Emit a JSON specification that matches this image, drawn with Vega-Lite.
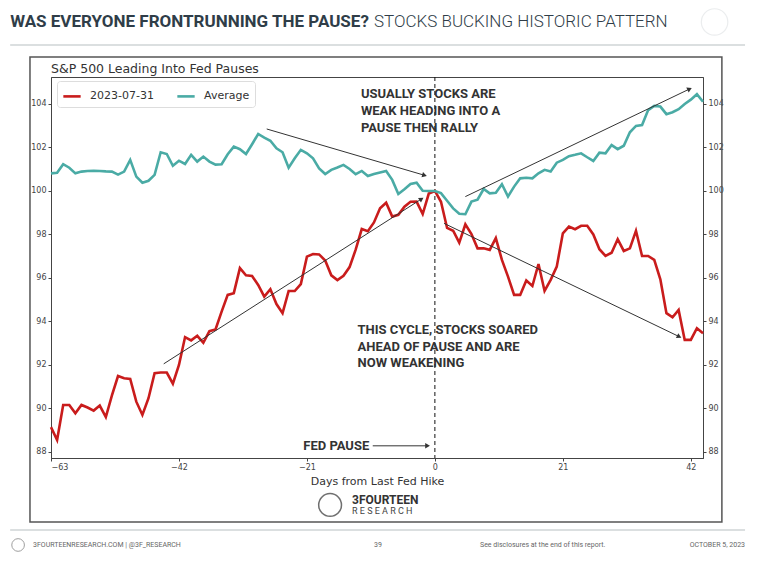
{
  "$schema": "https://vega.github.io/schema/vega-lite/v6.json",
  "width": 652,
  "height": 381,
  "autosize": {"type": "none"},
  "padding": {"left": 51, "top": 77, "right": 55, "bottom": 103},
  "background": "white",
  "config": {
    "view": {"stroke": "#444", "strokeWidth": 1},
    "font": "DejaVu Sans"
  },
  "datasets": {
    "one": [{}],
    "perf": [
      {"day":-63,"series":"2023-07-31","value":89.14},{"day":-62,"series":"2023-07-31","value":88.55},{"day":-61,"series":"2023-07-31","value":90.16},{"day":-60,"series":"2023-07-31","value":90.16},{"day":-59,"series":"2023-07-31","value":89.78},{"day":-58,"series":"2023-07-31","value":90.16},{"day":-57,"series":"2023-07-31","value":90.04},{"day":-56,"series":"2023-07-31","value":89.9},{"day":-55,"series":"2023-07-31","value":90.13},{"day":-54,"series":"2023-07-31","value":89.6},{"day":-53,"series":"2023-07-31","value":90.6},{"day":-52,"series":"2023-07-31","value":91.49},{"day":-51,"series":"2023-07-31","value":91.39},{"day":-50,"series":"2023-07-31","value":91.36},{"day":-49,"series":"2023-07-31","value":90.31},{"day":-48,"series":"2023-07-31","value":89.7},{"day":-47,"series":"2023-07-31","value":90.47},{"day":-46,"series":"2023-07-31","value":91.62},{"day":-45,"series":"2023-07-31","value":91.65},{"day":-44,"series":"2023-07-31","value":91.65},{"day":-43,"series":"2023-07-31","value":91.14},{"day":-42,"series":"2023-07-31","value":92.0},{"day":-41,"series":"2023-07-31","value":93.28},{"day":-40,"series":"2023-07-31","value":93.13},{"day":-39,"series":"2023-07-31","value":93.34},{"day":-38,"series":"2023-07-31","value":93.02},{"day":-37,"series":"2023-07-31","value":93.55},{"day":-36,"series":"2023-07-31","value":93.63},{"day":-35,"series":"2023-07-31","value":94.45},{"day":-34,"series":"2023-07-31","value":95.22},{"day":-33,"series":"2023-07-31","value":95.3},{"day":-32,"series":"2023-07-31","value":96.45},{"day":-31,"series":"2023-07-31","value":96.12},{"day":-30,"series":"2023-07-31","value":96.09},{"day":-29,"series":"2023-07-31","value":95.68},{"day":-28,"series":"2023-07-31","value":95.14},{"day":-27,"series":"2023-07-31","value":95.48},{"day":-26,"series":"2023-07-31","value":94.8},{"day":-25,"series":"2023-07-31","value":94.38},{"day":-24,"series":"2023-07-31","value":95.4},{"day":-23,"series":"2023-07-31","value":95.4},{"day":-22,"series":"2023-07-31","value":95.72},{"day":-21,"series":"2023-07-31","value":96.98},{"day":-20,"series":"2023-07-31","value":97.1},{"day":-19,"series":"2023-07-31","value":97.08},{"day":-18,"series":"2023-07-31","value":96.8},{"day":-17,"series":"2023-07-31","value":96.12},{"day":-16,"series":"2023-07-31","value":95.9},{"day":-15,"series":"2023-07-31","value":96.1},{"day":-14,"series":"2023-07-31","value":96.5},{"day":-13,"series":"2023-07-31","value":97.3},{"day":-12,"series":"2023-07-31","value":98.25},{"day":-11,"series":"2023-07-31","value":98.15},{"day":-10,"series":"2023-07-31","value":98.55},{"day":-9,"series":"2023-07-31","value":99.2},{"day":-8,"series":"2023-07-31","value":99.46},{"day":-7,"series":"2023-07-31","value":98.82},{"day":-6,"series":"2023-07-31","value":98.9},{"day":-5,"series":"2023-07-31","value":99.28},{"day":-4,"series":"2023-07-31","value":99.5},{"day":-3,"series":"2023-07-31","value":99.51},{"day":-2,"series":"2023-07-31","value":98.94},{"day":-1,"series":"2023-07-31","value":99.88},{"day":0,"series":"2023-07-31","value":100.0},{"day":1,"series":"2023-07-31","value":99.5},{"day":2,"series":"2023-07-31","value":98.3},{"day":3,"series":"2023-07-31","value":98.17},{"day":4,"series":"2023-07-31","value":97.62},{"day":5,"series":"2023-07-31","value":98.47},{"day":6,"series":"2023-07-31","value":98.02},{"day":7,"series":"2023-07-31","value":97.36},{"day":8,"series":"2023-07-31","value":97.36},{"day":9,"series":"2023-07-31","value":97.29},{"day":10,"series":"2023-07-31","value":97.83},{"day":11,"series":"2023-07-31","value":96.83},{"day":12,"series":"2023-07-31","value":96.06},{"day":13,"series":"2023-07-31","value":95.22},{"day":14,"series":"2023-07-31","value":95.22},{"day":15,"series":"2023-07-31","value":95.88},{"day":16,"series":"2023-07-31","value":95.63},{"day":17,"series":"2023-07-31","value":96.64},{"day":18,"series":"2023-07-31","value":95.4},{"day":19,"series":"2023-07-31","value":95.91},{"day":20,"series":"2023-07-31","value":96.52},{"day":21,"series":"2023-07-31","value":98.05},{"day":22,"series":"2023-07-31","value":98.36},{"day":23,"series":"2023-07-31","value":98.24},{"day":24,"series":"2023-07-31","value":98.4},{"day":25,"series":"2023-07-31","value":98.4},{"day":26,"series":"2023-07-31","value":98.0},{"day":27,"series":"2023-07-31","value":97.32},{"day":28,"series":"2023-07-31","value":97.01},{"day":29,"series":"2023-07-31","value":97.16},{"day":30,"series":"2023-07-31","value":97.78},{"day":31,"series":"2023-07-31","value":97.24},{"day":32,"series":"2023-07-31","value":97.36},{"day":33,"series":"2023-07-31","value":98.17},{"day":34,"series":"2023-07-31","value":97.01},{"day":35,"series":"2023-07-31","value":97.01},{"day":36,"series":"2023-07-31","value":96.83},{"day":37,"series":"2023-07-31","value":95.94},{"day":38,"series":"2023-07-31","value":94.38},{"day":39,"series":"2023-07-31","value":94.19},{"day":40,"series":"2023-07-31","value":94.53},{"day":41,"series":"2023-07-31","value":93.15},{"day":42,"series":"2023-07-31","value":93.15},{"day":43,"series":"2023-07-31","value":93.69},{"day":44,"series":"2023-07-31","value":93.46},
      {"day":-63,"series":"Average","value":100.81},{"day":-62,"series":"Average","value":100.84},{"day":-61,"series":"Average","value":101.23},{"day":-60,"series":"Average","value":101.07},{"day":-59,"series":"Average","value":100.81},{"day":-58,"series":"Average","value":100.89},{"day":-57,"series":"Average","value":100.92},{"day":-56,"series":"Average","value":100.93},{"day":-55,"series":"Average","value":100.92},{"day":-54,"series":"Average","value":100.9},{"day":-53,"series":"Average","value":100.89},{"day":-52,"series":"Average","value":100.75},{"day":-51,"series":"Average","value":100.89},{"day":-50,"series":"Average","value":101.43},{"day":-49,"series":"Average","value":100.66},{"day":-48,"series":"Average","value":100.38},{"day":-47,"series":"Average","value":100.47},{"day":-46,"series":"Average","value":100.74},{"day":-45,"series":"Average","value":101.78},{"day":-44,"series":"Average","value":101.7},{"day":-43,"series":"Average","value":101.16},{"day":-42,"series":"Average","value":101.39},{"day":-41,"series":"Average","value":101.24},{"day":-40,"series":"Average","value":101.66},{"day":-39,"series":"Average","value":101.35},{"day":-38,"series":"Average","value":101.58},{"day":-37,"series":"Average","value":101.35},{"day":-36,"series":"Average","value":101.21},{"day":-35,"series":"Average","value":101.23},{"day":-34,"series":"Average","value":101.69},{"day":-33,"series":"Average","value":102.04},{"day":-32,"series":"Average","value":101.92},{"day":-31,"series":"Average","value":101.7},{"day":-30,"series":"Average","value":102.15},{"day":-29,"series":"Average","value":102.62},{"day":-28,"series":"Average","value":102.45},{"day":-27,"series":"Average","value":102.31},{"day":-26,"series":"Average","value":101.96},{"day":-25,"series":"Average","value":101.78},{"day":-24,"series":"Average","value":101.07},{"day":-23,"series":"Average","value":101.5},{"day":-22,"series":"Average","value":101.89},{"day":-21,"series":"Average","value":101.73},{"day":-20,"series":"Average","value":101.5},{"day":-19,"series":"Average","value":101.04},{"day":-18,"series":"Average","value":100.78},{"day":-17,"series":"Average","value":100.97},{"day":-16,"series":"Average","value":101.08},{"day":-15,"series":"Average","value":101.2},{"day":-14,"series":"Average","value":101.01},{"day":-13,"series":"Average","value":100.77},{"day":-12,"series":"Average","value":100.92},{"day":-11,"series":"Average","value":100.69},{"day":-10,"series":"Average","value":100.78},{"day":-9,"series":"Average","value":100.85},{"day":-8,"series":"Average","value":100.92},{"day":-7,"series":"Average","value":100.51},{"day":-6,"series":"Average","value":99.86},{"day":-5,"series":"Average","value":100.08},{"day":-4,"series":"Average","value":100.32},{"day":-3,"series":"Average","value":100.38},{"day":-2,"series":"Average","value":100.01},{"day":-1,"series":"Average","value":100.0},{"day":0,"series":"Average","value":100.0},{"day":1,"series":"Average","value":99.9},{"day":2,"series":"Average","value":99.55},{"day":3,"series":"Average","value":99.2},{"day":4,"series":"Average","value":98.95},{"day":5,"series":"Average","value":98.93},{"day":6,"series":"Average","value":99.51},{"day":7,"series":"Average","value":99.6},{"day":8,"series":"Average","value":100.09},{"day":9,"series":"Average","value":99.89},{"day":10,"series":"Average","value":99.92},{"day":11,"series":"Average","value":100.31},{"day":12,"series":"Average","value":99.74},{"day":13,"series":"Average","value":100.2},{"day":14,"series":"Average","value":100.58},{"day":15,"series":"Average","value":100.61},{"day":16,"series":"Average","value":100.58},{"day":17,"series":"Average","value":100.81},{"day":18,"series":"Average","value":100.97},{"day":19,"series":"Average","value":100.89},{"day":20,"series":"Average","value":101.3},{"day":21,"series":"Average","value":101.43},{"day":22,"series":"Average","value":101.6},{"day":23,"series":"Average","value":101.66},{"day":24,"series":"Average","value":101.73},{"day":25,"series":"Average","value":101.55},{"day":26,"series":"Average","value":101.38},{"day":27,"series":"Average","value":101.76},{"day":28,"series":"Average","value":101.73},{"day":29,"series":"Average","value":102.11},{"day":30,"series":"Average","value":101.92},{"day":31,"series":"Average","value":102.08},{"day":32,"series":"Average","value":102.7},{"day":33,"series":"Average","value":102.99},{"day":34,"series":"Average","value":103.03},{"day":35,"series":"Average","value":103.72},{"day":36,"series":"Average","value":103.91},{"day":37,"series":"Average","value":103.88},{"day":38,"series":"Average","value":103.53},{"day":39,"series":"Average","value":103.62},{"day":40,"series":"Average","value":103.76},{"day":41,"series":"Average","value":104.0},{"day":42,"series":"Average","value":104.2},{"day":43,"series":"Average","value":104.45},{"day":44,"series":"Average","value":104.1}
    ],
    "arrows": [
      {"arrow":"avg_down","from_day":-27.6,"from_value":102.85,"to_day":-1.7,"to_value":100.72},
      {"arrow":"avg_up","from_day":5.0,"from_value":99.74,"to_day":41.8,"to_value":104.69},
      {"arrow":"red_up","from_day":-44.5,"from_value":92.05,"to_day":-2.2,"to_value":99.63},
      {"arrow":"red_down","from_day":1.5,"from_value":98.51,"to_day":40.1,"to_value":93.3},
      {"arrow":"pause","from_day":-10.2,"from_value":88.28,"to_day":-1.2,"to_value":88.28}
    ]
  },
  "data": {"name": "perf"},
  "layer": [
    {
      "data": {"name": "one"},
      "mark": {"type": "rect", "fill": null, "stroke": "#555", "strokeWidth": 1.5, "clip": false},
      "encoding": {
        "x": {"datum": -66.45, "type": "quantitative", "scale": {"domain": [-63, 44], "nice": false, "zero": false},
          "axis": {"values": [-63, -42, -21, 0, 21, 42], "title": "Days from Last Fed Hike", "titleFont": "DejaVu Sans", "titleFontSize": 11, "titleFontWeight": "normal", "titleColor": "#333", "titlePadding": 4, "labelFont": "DejaVu Sans", "labelFontSize": 8, "labelColor": "#444", "tickColor": "#444", "tickSize": 3, "domainColor": "#444", "grid": false}},
        "x2": {"datum": 47.1},
        "y": {"datum": 106.16, "type": "quantitative", "scale": {"domain": [87.72, 105.24], "nice": false, "zero": false}, "axis": null},
        "y2": {"datum": 84.78}
      }
    },
    {
      "data": {"name": "one"},
      "mark": {"type": "rule", "stroke": "#cfd4d6", "strokeWidth": 1.5},
      "encoding": {"x": {"datum": -69.7, "type": "quantitative"}, "x2": {"datum": 50.9}, "y": {"datum": 106.71, "type": "quantitative", "axis": null}}
    },
    {
      "data": {"name": "one"},
      "mark": {"type": "rule", "stroke": "#cfd4d6", "strokeWidth": 1.5},
      "encoding": {"x": {"datum": -69.7, "type": "quantitative"}, "x2": {"datum": 50.9}, "y": {"datum": 84.41, "type": "quantitative", "axis": null}}
    },
    {
      "data": {"name": "one"},
      "mark": {"type": "text", "text": "WAS EVERYONE FRONTRUNNING THE PAUSE?", "align": "left", "baseline": "middle", "font": "Roboto", "fontWeight": "bold", "fontSize": 17, "fill": "#2f3d48"},
      "encoding": {"x": {"datum": -69.7, "type": "quantitative"}, "y": {"datum": 107.77, "type": "quantitative", "axis": null}}
    },
    {
      "data": {"name": "one"},
      "mark": {"type": "text", "text": "STOCKS BUCKING HISTORIC PATTERN", "align": "left", "baseline": "middle", "font": "Roboto", "fontWeight": 300, "fontSize": 17, "fill": "#2f3d48"},
      "encoding": {"x": {"datum": -10.0, "type": "quantitative"}, "y": {"datum": 107.77, "type": "quantitative", "axis": null}}
    },
    {
      "data": {"name": "one"},
      "mark": {"type": "point", "shape": "circle", "filled": false, "size": 700, "stroke": "#e3e6e8", "strokeWidth": 1.2},
      "encoding": {"x": {"datum": 45.9, "type": "quantitative"}, "y": {"datum": 107.77, "type": "quantitative", "axis": null}}
    },
    {
      "data": {"name": "one"},
      "mark": {"type": "text", "text": "S&P 500 Leading Into Fed Pauses", "align": "left", "baseline": "middle", "font": "DejaVu Sans", "fontSize": 12.5, "fill": "#333"},
      "encoding": {"x": {"datum": -63, "type": "quantitative"}, "y": {"datum": 105.61, "type": "quantitative", "axis": null}}
    },
    {
      "data": {"name": "one"},
      "mark": {"type": "rule", "stroke": "#111", "strokeWidth": 1, "strokeDash": [4, 3]},
      "encoding": {"x": {"datum": 0, "type": "quantitative"}}
    },
    {
      "mark": {"type": "line", "strokeWidth": 2.6},
      "encoding": {
        "x": {"field": "day", "type": "quantitative"},
        "y": {"field": "value", "type": "quantitative",
          "axis": {"orient": "left", "values": [88, 90, 92, 94, 96, 98, 100, 102, 104], "title": null, "labelFont": "DejaVu Sans", "labelFontSize": 8, "labelColor": "#444", "tickColor": "#444", "tickSize": 3, "labelPadding": 2, "domainColor": "#444", "grid": false}},
        "color": {"field": "series", "type": "nominal",
          "scale": {"domain": ["2023-07-31", "Average"], "range": ["#c91c1c", "#4aaba5"]},
          "legend": {"title": null, "orient": "none", "legendX": 6, "legendY": 4, "direction": "horizontal", "symbolType": "stroke", "symbolStrokeWidth": 2.6, "symbolSize": 300, "labelFont": "DejaVu Sans", "labelFontSize": 11, "labelColor": "#333", "strokeColor": "#ddd", "fillColor": "white", "cornerRadius": 3, "padding": 5, "columnPadding": 18, "labelOffset": 8}}
      }
    },
    {
      "mark": {"type": "line", "strokeOpacity": 0},
      "encoding": {
        "x": {"field": "day", "type": "quantitative"},
        "y": {"field": "value", "type": "quantitative",
          "axis": {"orient": "right", "values": [88, 90, 92, 94, 96, 98, 100, 102, 104], "title": null, "labelFont": "DejaVu Sans", "labelFontSize": 8, "labelColor": "#444", "tickColor": "#444", "tickSize": 3, "labelPadding": 2, "domainColor": "#444", "grid": false}},
        "detail": {"field": "series"}
      }
    },
    {
      "data": {"name": "arrows"},
      "mark": {"type": "rule", "stroke": "#333", "strokeWidth": 1},
      "encoding": {
        "x": {"field": "from_day", "type": "quantitative"},
        "y": {"field": "from_value", "type": "quantitative", "axis": null},
        "x2": {"field": "to_day"},
        "y2": {"field": "to_value"}
      }
    },
    {
      "data": {"name": "arrows"},
      "transform": [{"filter": "datum.arrow == 'avg_down'"}],
      "mark": {"type": "point", "shape": "triangle-up", "filled": true, "fill": "#333", "size": 30, "angle": 106, "opacity": 1},
      "encoding": {"x": {"field": "to_day", "type": "quantitative"}, "y": {"field": "to_value", "type": "quantitative", "axis": null}}
    },
    {
      "data": {"name": "arrows"},
      "transform": [{"filter": "datum.arrow == 'avg_up'"}],
      "mark": {"type": "point", "shape": "triangle-up", "filled": true, "fill": "#333", "size": 30, "angle": 64, "opacity": 1},
      "encoding": {"x": {"field": "to_day", "type": "quantitative"}, "y": {"field": "to_value", "type": "quantitative", "axis": null}}
    },
    {
      "data": {"name": "arrows"},
      "transform": [{"filter": "datum.arrow == 'red_up'"}],
      "mark": {"type": "point", "shape": "triangle-up", "filled": true, "fill": "#333", "size": 30, "angle": 57, "opacity": 1},
      "encoding": {"x": {"field": "to_day", "type": "quantitative"}, "y": {"field": "to_value", "type": "quantitative", "axis": null}}
    },
    {
      "data": {"name": "arrows"},
      "transform": [{"filter": "datum.arrow == 'red_down'"}],
      "mark": {"type": "point", "shape": "triangle-up", "filled": true, "fill": "#333", "size": 30, "angle": 116, "opacity": 1},
      "encoding": {"x": {"field": "to_day", "type": "quantitative"}, "y": {"field": "to_value", "type": "quantitative", "axis": null}}
    },
    {
      "data": {"name": "arrows"},
      "transform": [{"filter": "datum.arrow == 'pause'"}],
      "mark": {"type": "point", "shape": "triangle-up", "filled": true, "fill": "#333", "size": 30, "angle": 90, "opacity": 1},
      "encoding": {"x": {"field": "to_day", "type": "quantitative"}, "y": {"field": "to_value", "type": "quantitative", "axis": null}}
    },
    {
      "data": {"name": "one"},
      "mark": {"type": "text", "text": ["USUALLY STOCKS ARE", "WEAK HEADING INTO A", "PAUSE THEN RALLY"], "align": "left", "baseline": "top", "font": "Roboto", "fontWeight": "bold", "fontSize": 13, "lineHeight": 17.3, "fill": "#333"},
      "encoding": {"x": {"datum": -12.14, "type": "quantitative"}, "y": {"datum": 104.74, "type": "quantitative", "axis": null}}
    },
    {
      "data": {"name": "one"},
      "mark": {"type": "text", "text": ["THIS CYCLE, STOCKS SOARED", "AHEAD OF PAUSE AND ARE", "NOW WEAKENING"], "align": "left", "baseline": "top", "font": "Roboto", "fontWeight": "bold", "fontSize": 13, "lineHeight": 16.7, "fill": "#333"},
      "encoding": {"x": {"datum": -12.69, "type": "quantitative"}, "y": {"datum": 93.89, "type": "quantitative", "axis": null}}
    },
    {
      "data": {"name": "one"},
      "mark": {"type": "text", "text": "FED PAUSE", "align": "left", "baseline": "middle", "font": "Roboto", "fontWeight": "bold", "fontSize": 13, "fill": "#333"},
      "encoding": {"x": {"datum": -21.6, "type": "quantitative"}, "y": {"datum": 88.28, "type": "quantitative", "axis": null}}
    },
    {
      "data": {"name": "one"},
      "mark": {"type": "point", "shape": "circle", "filled": false, "size": 520, "stroke": "#333", "strokeWidth": 1.5},
      "encoding": {"x": {"datum": -17.2, "type": "quantitative"}, "y": {"datum": 85.56, "type": "quantitative", "axis": null}}
    },
    {
      "data": {"name": "one"},
      "mark": {"type": "text", "text": "3FOURTEEN", "align": "left", "baseline": "middle", "font": "Roboto", "fontWeight": "bold", "fontSize": 12, "fill": "#333"},
      "encoding": {"x": {"datum": -13.6, "type": "quantitative"}, "y": {"datum": 85.79, "type": "quantitative", "axis": null}}
    },
    {
      "data": {"name": "one"},
      "mark": {"type": "text", "text": "R E S E A R C H", "align": "left", "baseline": "middle", "font": "Roboto", "fontSize": 9, "fill": "#444"},
      "encoding": {"x": {"datum": -13.6, "type": "quantitative"}, "y": {"datum": 85.29, "type": "quantitative", "axis": null}}
    },
    {
      "data": {"name": "one"},
      "mark": {"type": "point", "shape": "circle", "filled": false, "size": 160, "stroke": "#777", "strokeWidth": 1},
      "encoding": {"x": {"datum": -68.4, "type": "quantitative"}, "y": {"datum": 83.72, "type": "quantitative", "axis": null}}
    },
    {
      "data": {"name": "one"},
      "mark": {"type": "text", "text": "3FOURTEENRESEARCH.COM  |  @3F_RESEARCH", "align": "left", "baseline": "middle", "font": "Roboto", "fontSize": 7, "fill": "#666"},
      "encoding": {"x": {"datum": -65.95, "type": "quantitative"}, "y": {"datum": 83.72, "type": "quantitative", "axis": null}}
    },
    {
      "data": {"name": "one"},
      "mark": {"type": "text", "text": "39", "align": "center", "baseline": "middle", "font": "Roboto", "fontSize": 7, "fill": "#666"},
      "encoding": {"x": {"datum": -9.35, "type": "quantitative"}, "y": {"datum": 83.72, "type": "quantitative", "axis": null}}
    },
    {
      "data": {"name": "one"},
      "mark": {"type": "text", "text": "See disclosures at the end of this report.", "align": "left", "baseline": "middle", "font": "Roboto", "fontSize": 7, "fill": "#666"},
      "encoding": {"x": {"datum": 7.4, "type": "quantitative"}, "y": {"datum": 83.72, "type": "quantitative", "axis": null}}
    },
    {
      "data": {"name": "one"},
      "mark": {"type": "text", "text": "OCTOBER 5, 2023", "align": "right", "baseline": "middle", "font": "Roboto", "fontSize": 7, "fill": "#666"},
      "encoding": {"x": {"datum": 50.9, "type": "quantitative"}, "y": {"datum": 83.72, "type": "quantitative", "axis": null}}
    }
  ],
  "resolve": {"axis": {"y": "independent"}}
}
